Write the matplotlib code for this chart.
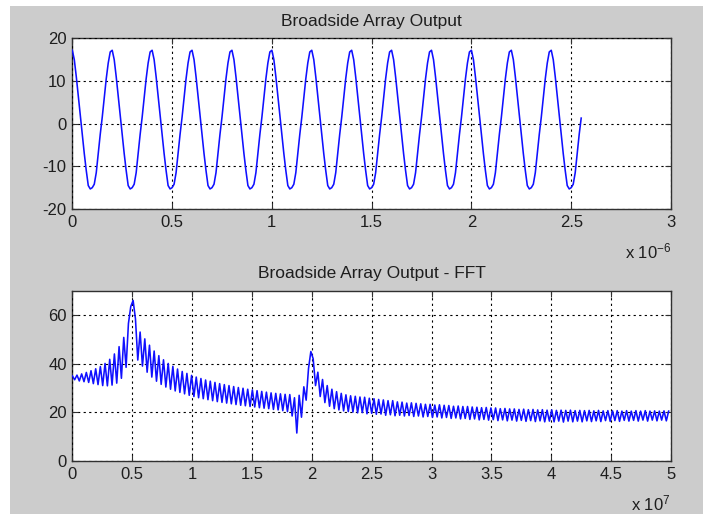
import numpy as np
import matplotlib
matplotlib.use('Agg')
import matplotlib.pyplot as plt
from matplotlib.patches import Rectangle

# ---------------- data ----------------
SAMPLE_PERIOD = 1e-8          # seconds between samples of the array output
FREQ_STEP = 1e8 / 512         # Hz between FFT bins

# array output samples, one row per 20-sample period
signal = [
    17.2, 15.0, 11.0, 6.5, 2.0, -2.5, -7.0, -11.0, -14.5, -15.3, -15.0, -14.2, -11.5, -7.0, -2.5, 1.5, 6.0, 10.5, 14.2, 16.8,
    17.2, 15.0, 11.0, 6.5, 2.0, -2.5, -7.0, -11.0, -14.5, -15.3, -15.0, -14.2, -11.5, -7.0, -2.5, 1.5, 6.0, 10.5, 14.2, 16.8,
    17.2, 15.0, 11.0, 6.5, 2.0, -2.5, -7.0, -11.0, -14.5, -15.3, -15.0, -14.2, -11.5, -7.0, -2.5, 1.5, 6.0, 10.5, 14.2, 16.8,
    17.2, 15.0, 11.0, 6.5, 2.0, -2.5, -7.0, -11.0, -14.5, -15.3, -15.0, -14.2, -11.5, -7.0, -2.5, 1.5, 6.0, 10.5, 14.2, 16.8,
    17.2, 15.0, 11.0, 6.5, 2.0, -2.5, -7.0, -11.0, -14.5, -15.3, -15.0, -14.2, -11.5, -7.0, -2.5, 1.5, 6.0, 10.5, 14.2, 16.8,
    17.2, 15.0, 11.0, 6.5, 2.0, -2.5, -7.0, -11.0, -14.5, -15.3, -15.0, -14.2, -11.5, -7.0, -2.5, 1.5, 6.0, 10.5, 14.2, 16.8,
    17.2, 15.0, 11.0, 6.5, 2.0, -2.5, -7.0, -11.0, -14.5, -15.3, -15.0, -14.2, -11.5, -7.0, -2.5, 1.5, 6.0, 10.5, 14.2, 16.8,
    17.2, 15.0, 11.0, 6.5, 2.0, -2.5, -7.0, -11.0, -14.5, -15.3, -15.0, -14.2, -11.5, -7.0, -2.5, 1.5, 6.0, 10.5, 14.2, 16.8,
    17.2, 15.0, 11.0, 6.5, 2.0, -2.5, -7.0, -11.0, -14.5, -15.3, -15.0, -14.2, -11.5, -7.0, -2.5, 1.5, 6.0, 10.5, 14.2, 16.8,
    17.2, 15.0, 11.0, 6.5, 2.0, -2.5, -7.0, -11.0, -14.5, -15.3, -15.0, -14.2, -11.5, -7.0, -2.5, 1.5, 6.0, 10.5, 14.2, 16.8,
    17.2, 15.0, 11.0, 6.5, 2.0, -2.5, -7.0, -11.0, -14.5, -15.3, -15.0, -14.2, -11.5, -7.0, -2.5, 1.5, 6.0, 10.5, 14.2, 16.8,
    17.2, 15.0, 11.0, 6.5, 2.0, -2.5, -7.0, -11.0, -14.5, -15.3, -15.0, -14.2, -11.5, -7.0, -2.5, 1.5, 6.0, 10.5, 14.2, 16.8,
    17.2, 15.0, 11.0, 6.5, 2.0, -2.5, -7.0, -11.0, -14.5, -15.3, -15.0, -14.2, -11.5, -7.0, -2.5, 1.3,
]

# FFT magnitude in dB, one value per bin
fft_db = [
    35.0, 33.4, 35.3, 32.9, 35.8, 32.6, 36.4, 32.3, 37.1, 31.8,
    37.9, 31.4, 38.8, 31.0, 40.1, 30.9, 41.8, 31.2, 44.0, 32.0,
    47.0, 34.0, 50.8, 38.5, 56.5, 63.5, 66.0, 58.5, 41.5, 53.0,
    39.0, 50.2, 36.5, 47.6, 34.5, 45.2, 32.8, 43.3, 31.5, 41.6,
    30.4, 40.1, 29.5, 38.9, 28.8, 37.8, 28.2, 36.8, 27.6, 36.0,
    27.0, 35.2, 26.5, 34.5, 26.0, 33.9, 25.6, 33.3, 25.2, 32.8,
    24.8, 32.3, 24.4, 31.8, 24.1, 31.4, 23.8, 31.0, 23.5, 30.6,
    23.2, 30.2, 22.9, 29.9, 22.7, 29.5, 22.4, 29.2, 22.2, 28.9,
    21.9, 28.6, 21.7, 28.3, 21.5, 28.0, 21.2, 27.8, 21.0, 27.6,
    20.7, 27.4, 20.3, 27.3, 18.5, 26.0, 11.5, 27.0, 18.0, 30.5,
    25.0, 38.0, 45.0, 42.0, 31.0, 36.5, 26.5, 33.5, 24.0, 31.0,
    22.5, 29.5, 21.5, 28.5, 21.0, 27.8, 20.6, 27.2, 20.3, 26.8,
    20.1, 26.6, 19.8, 26.3, 19.9, 26.2, 19.4, 25.8, 19.6, 25.6,
    19.2, 25.3, 19.3, 25.1, 18.8, 24.8, 19.0, 24.8, 18.6, 24.3,
    18.8, 24.2, 18.5, 23.8, 18.7, 23.9, 18.3, 23.7, 18.5, 23.5,
    18.1, 23.3, 18.3, 23.3, 17.9, 23.0, 18.1, 23.1, 17.7, 22.9,
    17.9, 22.8, 17.5, 22.5, 17.7, 22.6, 17.3, 22.4, 17.5, 22.4,
    17.1, 22.2, 17.3, 22.1, 16.9, 21.9, 17.1, 22.0, 16.8, 21.8,
    17.0, 21.8, 16.6, 21.5, 16.9, 21.6, 16.5, 21.4, 16.8, 21.4,
    16.4, 21.2, 16.7, 21.3, 16.3, 21.1, 16.6, 21.2, 16.2, 21.0,
    16.5, 21.1, 16.1, 20.9, 16.4, 21.0, 16.1, 20.8, 16.4, 20.9,
    16.0, 20.8, 16.4, 20.9, 16.1, 20.7, 16.4, 20.8, 16.1, 20.7,
    16.5, 20.8, 16.2, 20.6, 16.5, 20.8, 16.2, 20.6, 16.6, 20.7,
    16.3, 20.6, 16.6, 20.7, 16.3, 20.5, 16.7, 20.7, 16.4, 20.5,
    16.7, 20.7, 16.4, 20.5, 16.8, 20.7, 16.4, 20.5, 16.8, 20.6,
    16.5, 20.5, 16.8, 20.6, 16.5, 20.5,
]

time_ticks = [0, 0.5, 1, 1.5, 2, 2.5, 3]            # x 1e-6 s
time_labels = ['0', '0.5', '1', '1.5', '2', '2.5', '3']
out_yticks = [-20, -10, 0, 10, 20]
freq_ticks = [0, 0.5, 1, 1.5, 2, 2.5, 3, 3.5, 4, 4.5, 5]   # x 1e7 Hz
freq_labels = ['0', '0.5', '1', '1.5', '2', '2.5', '3', '3.5', '4', '4.5', '5']
fft_yticks = [0, 20, 40, 60]

title_top = 'Broadside Array Output'
title_bottom = 'Broadside Array Output - FFT'

# ---------------- style ----------------
plt.rcParams['font.family'] = ['Liberation Sans', 'DejaVu Sans']
plt.rcParams['mathtext.fontset'] = 'custom'
plt.rcParams['mathtext.rm'] = 'Liberation Sans'
plt.rcParams['mathtext.it'] = 'Liberation Sans'
FS = 12
FS_TITLE = 12.5
TXT = '#1e1e1e'
LINE = '#1010ff'

W, H = 707, 514
fig = plt.figure(figsize=(W / 100, H / 100), dpi=100)
fig.patch.set_facecolor('white')
fig.add_artist(Rectangle((10 / W, 0), 693 / W, 508 / H, transform=fig.transFigure,
                         facecolor='#cccccc', edgecolor='none', zorder=-10))


def style(ax):
    ax.set_facecolor('white')
    ax.grid(True, color='black', linestyle=(0, (2, 3)), linewidth=0.8)
    ax.set_axisbelow(False)
    ax.tick_params(direction='in', top=True, right=True, length=4, width=0.8,
                   labelsize=FS, colors='#303030', labelcolor=TXT, pad=4)
    for s in ax.spines.values():
        s.set_color('#303030')
        s.set_linewidth(1.0)


# top: time signal
ax1 = fig.add_axes([72.3 / W, 1 - 209 / H, (671 - 72.3) / W, (209 - 38.3) / H])
t = np.arange(len(signal)) * SAMPLE_PERIOD
ax1.plot(t, signal, color=LINE, linewidth=1.15, zorder=3)
ax1.set_xlim(0, 3e-6)
ax1.set_ylim(-20, 20)
ax1.set_xticks([v * 1e-6 for v in time_ticks])
ax1.set_xticklabels(time_labels)
ax1.set_yticks(out_yticks)
ax1.set_yticklabels([str(v) for v in out_yticks])
style(ax1)
ax1.set_title(title_top, fontsize=FS_TITLE, color=TXT, pad=9)
fig.text(671 / W, 1 - 258 / H, r'x 10$^{-6}$', ha='right', va='baseline',
         fontsize=FS, color=TXT)

# bottom: FFT
ax2 = fig.add_axes([72.3 / W, 1 - 461 / H, (671 - 72.3) / W, (461 - 290.7) / H])
f = np.arange(len(fft_db)) * FREQ_STEP
ax2.plot(f, fft_db, color=LINE, linewidth=1.15, zorder=3)
ax2.set_xlim(0, 5e7)
ax2.set_ylim(0, 70)
ax2.set_xticks([v * 1e7 for v in freq_ticks])
ax2.set_xticklabels(freq_labels)
ax2.set_yticks(fft_yticks)
ax2.set_yticklabels([str(v) for v in fft_yticks])
style(ax2)
ax2.set_title(title_bottom, fontsize=FS_TITLE, color=TXT, pad=9)
fig.text(671 / W, 1 - 510 / H, r'x 10$^{7}$', ha='right', va='baseline',
         fontsize=FS, color=TXT)

fig.savefig('out.png', dpi=100, facecolor=fig.get_facecolor())
